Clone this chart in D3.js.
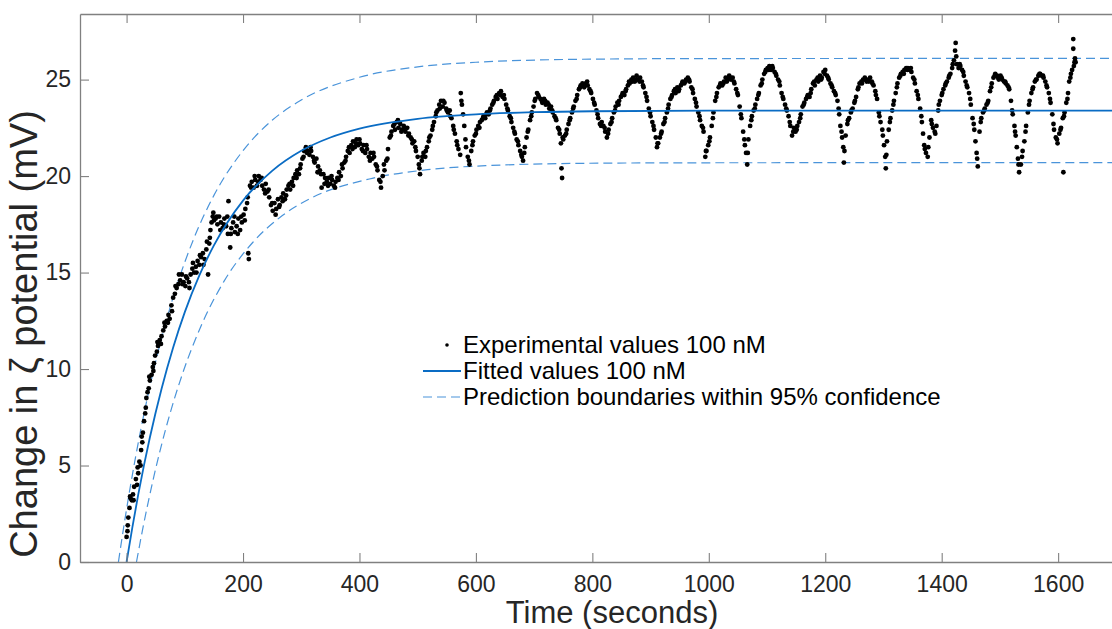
<!DOCTYPE html>
<html>
<head>
<meta charset="utf-8">
<script src="https://cdn.jsdelivr.net/npm/d3@7"></script>
<style>
	body { margin: 0; background: #fff; }
	svg text { font-family: "Liberation Sans", Arial, sans-serif; }
</style>
</head>
<body>
<div id="chart-area"></div>
<script>
// Data
// ****
// experimental zeta potential readings [time (s), change (mV)]
const expPoints = [
	[0,1.3],[2,1.9],[3,2.3],[5,2.8],[7,3.3],[9,3.2],[11,3.5],[13,3.9],[16,4.3],[18,4.0],[20,4.6],[22,5.2],[24,5.0],[25,5.8],
	[26,6.5],[28,6.7],[30,7.3],[32,7.7],[34,8.5],[36,8.8],[38,9.0],[40,9.4],[43,9.7],[45,10.1],[47,10.3],[49,10.7],[52,10.9],
	[54,11.2],[57,11.5],[60,11.7],[63,12.0],[66,12.2],[69,12.5],[72,12.8],[74,12.6],[77,13.3],[80,13.7],[83,13.9],[86,14.2],
	[89,14.4],[92,14.6],[95,14.9],[98,14.5],[101,14.3],[104,14.7],[107,14.5],[110,14.9],[113,15.2],[116,15.0],[119,15.3],
	[122,15.6],[125,15.4],[128,15.8],[131,16.0],[134,15.7],[137,16.2],[140,14.9],[142,16.5],[144,17.2],[146,17.6],[148,17.9],
	[150,17.7],[153,17.8],[156,17.5],[159,17.9],[162,17.6],[165,17.3],[168,17.8],[171,17.4],[174,17.0],[175,18.7],[178,16.3],
	[180,17.3],[183,17.6],[186,17.1],[189,17.4],[192,17.8],[195,17.2],[198,17.6],[201,18.0],[204,18.3],[207,18.6],[209,16.0],
	[210,15.7],[212,19.5],[215,19.7],[218,19.4],[221,19.8],[224,19.5],[227,20.0],[230,19.8],[233,19.5],[236,19.3],[239,19.6],
	[242,19.2],[245,18.9],[248,18.5],[251,18.2],[254,18.6],[257,18.3],[260,18.8],[263,18.5],[266,18.9],[269,19.1],[272,18.8],
	[275,19.3],[278,19.5],[281,19.3],[284,19.7],[287,19.9],[290,20.1],[293,20.3],[296,20.1],[299,20.6],[302,20.9],[305,21.3],
	[308,21.5],[311,21.3],[314,21.1],[317,21.3],[320,21.0],[323,20.7],[326,20.9],[329,20.5],[332,20.3],[335,19.4],[338,20.1],
	[341,19.9],[344,19.7],[347,19.9],[350,19.6],[353,19.8],[356,19.5],[359,19.7],[362,19.9],[365,20.2],[368,20.0],[371,20.4],
	[374,20.7],[377,21.0],[380,21.3],[383,21.2],[386,21.6],[389,21.8],[392,21.5],[395,21.9],[398,21.6],[401,21.7],[404,21.4],
	[407,21.6],[410,21.2],[413,21.4],[416,21.0],[419,21.2],[422,20.9],[425,21.0],[428,20.6],[431,20.3],[434,19.8],[437,19.4],
	[440,20.0],[443,20.3],[446,20.8],[449,21.4],[452,22.0],[455,22.3],[458,22.6],[461,22.4],[464,22.8],[467,22.5],[470,22.7],
	[473,22.4],[476,22.6],[479,22.3],[482,22.5],[485,22.2],[488,22.0],[491,21.7],[494,21.8],[497,21.3],[500,21.0],[502,20.6],
	[504,20.1],[507,20.8],[510,21.2],[513,21.0],[516,21.5],[519,21.8],[522,22.1],[525,22.4],[528,22.8],[531,23.1],[534,23.4],
	[537,23.7],[540,23.9],[543,23.6],[546,23.8],[549,23.5],[552,23.3],[555,23.4],[558,23.0],[561,22.6],[564,22.2],[567,21.8],
	[570,21.4],[573,21.1],[574,24.3],[576,23.7],[578,23.2],[580,22.6],[583,21.5],[586,21.0],[589,20.6],[592,21.3],[595,21.8],
	[598,22.1],[601,22.4],[604,22.6],[607,22.8],[610,22.9],[613,23.1],[616,23.0],[619,23.3],[622,23.2],[625,23.5],[628,23.7],
	[631,23.9],[634,24.1],[637,24.0],[640,24.3],[643,24.4],[646,24.1],[649,24.0],[652,23.7],[655,23.4],[658,23.1],[661,22.8],
	[664,22.5],[667,22.2],[670,21.9],[673,21.6],[676,21.3],[679,21.0],[681,20.8],[684,21.5],[687,22.0],[690,22.4],[693,22.9],
	[696,23.3],[699,23.6],[702,24.0],[705,24.3],[708,24.1],[711,24.0],[714,23.8],[717,24.0],[720,23.7],[723,23.8],[726,23.5],
	[729,23.6],[732,23.3],[735,23.1],[738,22.9],[741,22.5],[744,22.2],[746,21.7],[747,20.4],[748,19.9],[750,21.9],[753,22.1],
	[756,22.4],[759,22.7],[762,23.0],[765,23.3],[768,23.6],[771,23.9],[774,24.2],[777,24.5],[780,24.7],[783,24.8],[786,24.6],
	[789,24.8],[792,24.7],[795,24.5],[798,24.3],[801,24.0],[804,23.7],[807,23.4],[810,23.0],[813,22.7],[816,22.8],[819,22.6],
	[822,22.3],[825,22.0],[828,22.4],[831,22.7],[834,23.0],[837,23.3],[840,23.6],[843,23.8],[846,23.9],[849,24.1],[852,24.3],
	[855,24.2],[858,24.5],[861,24.7],[864,24.8],[867,25.0],[870,25.1],[873,24.9],[876,25.2],[879,25.0],[882,25.1],[885,24.9],
	[888,24.6],[891,24.3],[894,23.9],[897,23.5],[900,23.1],[903,22.8],[906,22.4],[909,22.0],[911,21.5],[913,21.7],[916,22.0],
	[919,22.3],[922,22.7],[925,23.0],[928,23.3],[931,23.7],[934,24.0],[937,24.2],[940,24.4],[943,24.3],[946,24.6],[949,24.5],
	[952,24.7],[955,24.9],[958,24.8],[961,25.0],[964,25.1],[967,24.9],[970,24.6],[973,24.3],[976,24.0],[979,23.6],[982,23.3],
	[985,22.9],[988,22.6],[991,22.3],[994,21.0],[996,21.3],[999,21.6],[1002,22.0],[1005,22.6],[1008,23.3],[1011,23.9],
	[1014,24.3],[1017,24.6],[1020,24.8],[1023,24.7],[1026,24.9],[1029,25.1],[1032,25.0],[1035,25.2],[1038,25.0],[1041,25.1],
	[1044,24.8],[1047,24.5],[1050,24.2],[1053,23.6],[1056,23.0],[1059,22.3],[1062,21.6],[1064,21.2],[1066,20.6],[1068,21.9],
	[1071,22.6],[1074,23.1],[1077,23.4],[1080,23.7],[1083,24.0],[1086,24.3],[1089,24.7],[1092,25.0],[1095,25.3],[1098,25.5],
	[1101,25.6],[1104,25.7],[1107,25.5],[1110,25.6],[1113,25.4],[1116,25.2],[1119,25.0],[1122,24.7],[1125,24.3],[1128,24.0],
	[1131,23.7],[1134,23.4],[1137,23.1],[1140,22.6],[1143,22.1],[1146,22.5],[1149,22.3],[1152,22.6],[1155,22.8],[1158,23.2],
	[1161,23.6],[1164,23.8],[1167,24.0],[1170,24.2],[1173,24.1],[1176,24.5],[1179,24.8],[1182,24.7],[1185,25.0],[1188,24.9],
	[1191,25.2],[1194,25.1],[1197,25.4],[1200,25.5],[1203,25.2],[1206,25.0],[1209,24.8],[1212,24.6],[1215,24.4],[1218,24.2],
	[1221,23.9],[1224,23.2],[1226,22.6],[1229,22.0],[1231,21.5],[1232,20.7],[1235,22.1],[1238,22.7],[1241,23.0],[1244,23.3],
	[1247,23.5],[1250,23.8],[1253,24.1],[1256,24.5],[1259,24.8],[1262,24.9],[1265,25.0],[1268,25.1],[1271,24.9],[1274,25.0],
	[1277,25.1],[1280,24.9],[1283,24.7],[1286,24.4],[1289,24.0],[1292,23.3],[1295,22.8],[1298,22.4],[1301,21.6],[1303,21.0],
	[1304,20.4],[1306,21.8],[1309,22.4],[1312,23.0],[1315,23.4],[1318,23.9],[1321,24.3],[1324,24.8],[1327,25.1],[1330,25.3],
	[1333,25.4],[1336,25.5],[1339,25.6],[1342,25.6],[1345,25.5],[1348,25.4],[1351,25.1],[1354,24.8],[1357,24.4],[1360,24.0],
	[1363,23.5],[1366,22.8],[1368,22.2],[1370,21.6],[1373,21.2],[1376,21.0],[1379,22.0],[1382,22.9],[1385,22.5],[1388,22.3],
	[1391,22.6],[1394,23.4],[1397,23.9],[1400,24.2],[1403,24.5],[1406,24.7],[1409,24.9],[1412,25.1],[1415,25.3],[1418,25.6],
	[1421,26.0],[1423,26.5],[1424,26.9],[1426,25.8],[1429,25.6],[1432,25.7],[1435,25.5],[1438,25.2],[1441,24.9],[1444,24.6],
	[1447,24.3],[1450,23.7],[1453,23.0],[1456,22.4],[1458,21.8],[1460,21.2],[1462,20.5],[1465,22.3],[1468,23.0],[1471,23.3],
	[1474,23.5],[1477,23.7],[1480,23.9],[1483,24.4],[1486,24.8],[1489,25.1],[1492,25.3],[1495,25.2],[1498,25.0],[1501,25.2],
	[1504,25.0],[1507,24.9],[1510,24.8],[1513,24.7],[1516,24.5],[1519,23.9],[1522,23.2],[1525,22.6],[1527,22.1],[1529,21.5],
	[1531,20.9],[1533,20.2],[1536,20.6],[1539,21.3],[1542,21.8],[1545,22.6],[1548,23.3],[1551,23.9],[1554,24.3],[1557,24.6],
	[1560,24.9],[1563,25.0],[1566,25.2],[1569,25.3],[1572,25.2],[1575,25.1],[1578,24.9],[1581,24.6],[1584,24.3],[1587,23.8],
	[1590,23.2],[1593,22.4],[1596,22.0],[1599,21.7],[1602,22.2],[1605,22.5],[1608,23.0],[1609,20.2],[1611,23.3],[1614,23.8],
	[1617,24.3],[1619,24.9],[1621,25.1],[1624,25.5],[1627,25.7],[1629,26.1],[1630,25.9],[1626,26.6],[1626,27.1]
]

// second pass of readings, the spread of the cloud around the main trace
const expPointsSpread = [
	[1.5,1.6],[6,3.4],[12,3.2],[19,4.9],[27,6.2],[33,8.0],[39,9.6],[46,9.9],[53,11.4],[59,11.3],[65,12.4],[71,12.4],[78,13.0],
	[84,14.3],[90,14.9],[96,14.4],[102,14.8],[108,14.2],[114,15.5],[120,15.0],[126,15.9],[132,15.4],[138,16.6],[143,16.8],
	[149,18.1],[155,17.9],[161,17.2],[167,17.5],[173,17.9],[179,17.0],[185,17.9],[191,17.0],[197,17.9],[203,17.7],[208,18.9],
	[214,19.4],[220,20.0],[226,19.7],[232,19.9],[238,19.1],[244,19.3],[250,18.6],[256,18.0],[262,18.4],[268,18.7],[274,19.0],
	[280,19.6],[286,19.5],[292,19.9],[298,20.4],[304,21.0],[310,21.2],[316,21.5],[322,20.8],[328,20.2],[334,20.1],[340,19.6],
	[346,19.5],[352,20.0],[358,19.4],[364,19.8],[370,20.6],[376,20.8],[382,21.5],[388,21.4],[394,21.7],[400,21.9],[406,21.3],
	[412,21.6],[418,20.8],[424,21.2],[430,20.5],[436,19.7],[442,20.6],[448,20.9],[454,22.1],[460,22.7],[466,22.9],[472,22.3],
	[478,22.5],[484,22.1],[490,21.9],[496,21.5],[503,20.4],[508,21.0],[514,21.3],[520,22.0],[526,22.6],[532,23.3],[538,23.5],
	[544,23.9],[550,23.4],[556,23.1],[562,22.4],[568,21.6],[575,23.9],[582,21.9],[588,20.8],[594,21.6],[600,22.2],[606,22.5],
	[612,23.0],[618,23.2],[624,23.4],[630,23.8],[636,24.2],[642,24.2],[648,24.2],[654,23.5],[660,23.0],[666,22.3],[672,21.8],
	[678,21.1],[683,21.2],[689,22.3],[695,23.1],[701,23.9],[707,24.2],[713,23.9],[719,23.9],[725,23.7],[731,23.4],[737,23.0],
	[743,22.4],[749,22.0],[755,22.2],[761,22.9],[767,23.5],[773,24.0],[779,24.6],[785,24.7],[791,24.9],[797,24.4],[803,23.8],
	[809,23.2],[815,22.6],[821,22.5],[827,22.2],[833,22.8],[839,23.4],[845,23.7],[851,24.2],[857,24.4],[863,24.9],[869,24.9],
	[875,25.0],[881,24.9],[887,24.7],[893,24.1],[899,23.3],[905,22.6],[912,21.7],[918,22.2],[924,22.8],[930,23.5],[936,24.1],
	[942,24.5],[948,24.4],[954,24.8],[960,24.9],[966,25.0],[972,24.5],[978,23.8],[984,23.1],[990,22.5],[995,21.3],[1001,21.8],
	[1007,23.0],[1013,24.1],[1019,24.7],[1025,24.8],[1031,24.9],[1037,25.1],[1043,24.9],[1049,24.3],[1055,23.2],[1061,21.9],
	[1067,21.2],[1073,22.9],[1079,23.5],[1085,24.2],[1091,24.8],[1097,25.4],[1103,25.5],[1109,25.7],[1115,25.3],[1121,24.9],
	[1127,24.1],[1133,23.5],[1139,22.8],[1145,22.3],[1151,22.4],[1157,23.0],[1163,23.7],[1169,24.1],[1175,24.3],[1181,24.9],
	[1187,25.1],[1193,25.0],[1199,25.3],[1205,25.1],[1211,24.7],[1217,24.3],[1223,23.5],[1228,22.3],[1233,21.3],[1239,22.9],
	[1245,23.4],[1251,23.9],[1257,24.6],[1263,24.8],[1269,25.0],[1275,24.9],[1281,24.8],[1287,24.2],[1293,23.1],[1299,22.1],
	[1305,21.1],[1311,22.8],[1317,23.7],[1323,24.6],[1329,25.2],[1335,25.3],[1341,25.5],[1347,25.6],[1353,25.0],[1359,24.2],
	[1365,23.1],[1371,21.4],[1377,21.5],[1383,22.7],[1389,22.2],[1395,23.7],[1401,24.3],[1407,24.8],[1413,25.2],[1419,25.8],
	[1425,26.2],[1431,25.8],[1437,25.4],[1443,24.7],[1449,24.0],[1455,22.7],[1461,20.9],[1467,22.8],[1473,23.4],[1479,23.8],
	[1485,24.6],[1491,25.2],[1497,25.1],[1503,25.1],[1509,24.9],[1515,24.6],[1521,23.4],[1526,22.3],[1532,20.6],[1538,21.0],
	[1544,22.3],[1550,23.7],[1556,24.5],[1562,25.0],[1568,25.3],[1574,25.2],[1580,24.7],[1586,24.0],[1592,22.7],[1598,21.9],
	[1604,22.4],[1610,23.1],[1616,24.0],[1622,25.3],[1628,25.9]
]

// fitted curve
const fitTimes = [0, 10, 20, 30, 40, 60, 80, 100, 125, 150, 200, 250, 300, 350, 400, 500, 600, 700, 800, 1000, 1720]
const fitValues = [0, 1.81, 3.49, 5.03, 6.45, 8.97, 11.12, 12.95, 14.85, 16.41, 18.73, 20.27, 21.31, 22.0, 22.46, 22.97, 23.2, 23.31, 23.36, 23.39, 23.39]

// 95% prediction boundaries
const upperTimes = [-14, -4, 6, 16, 26, 36, 56, 86, 116, 150, 200, 250, 300, 400, 500, 600, 800, 1000, 1720]
const upperValues = [0, 1.99, 3.83, 5.53, 7.10, 8.55, 11.12, 14.30, 16.80, 19.0, 21.32, 22.89, 23.94, 25.12, 25.66, 25.90, 26.06, 26.09, 26.1]
const lowerTimes = [17, 27, 37, 47, 67, 97, 127, 167, 217, 267, 317, 417, 517, 617, 817, 1017, 1720]
const lowerValues = [0, 1.60, 3.08, 4.45, 6.87, 9.84, 12.17, 14.53, 16.57, 17.94, 18.86, 19.85, 20.33, 20.54, 20.67, 20.69, 20.7]

const xTicks = [0, 200, 400, 600, 800, 1000, 1200, 1400, 1600]
const yTicks = [0, 5, 10, 15, 20, 25]
const legendLabels = ["Experimental values 100 nM", "Fitted values 100 nM", "Prediction boundaries within 95% confidence"]

// Config
// ******
const margin = {top: 14, right: 0, bottom: 67, left: 80}
const width = 1048, height = 548
const axisColor = "#808080", textColor = "#262626"
const fitColor = "#0a6cc4", boundColor = "#4a94da"

const svg = d3.select("#chart-area")
	.append("svg")
		.attr("width", 1112)
		.attr("height", 629)

const g = svg.append("g")
	.attr("transform", "translate(" + margin.left + ", " + margin.top + ")")

const x_scale = d3.scaleLinear().domain([-80, 1720]).range([0, width])
const y_scale = d3.scaleLinear().domain([0, 28.4]).range([height, 0])

g.append("clipPath").attr("id", "plot-clip")
	.append("rect").attr("width", width).attr("height", height)

const plot = g.append("g").attr("clip-path", "url(#plot-clip)")

// Boundaries & fit
const line = d3.line().curve(d3.curveMonotoneX)
	.x(d => x_scale(d[0])).y(d => y_scale(d[1]))

plot.append("path")
	.datum(upperTimes.map((t, i) => [t, upperValues[i]]))
	.attr("d", line).attr("fill", "none")
	.attr("stroke", boundColor).attr("stroke-width", 1.2).attr("stroke-dasharray", "9,5")

plot.append("path")
	.datum(lowerTimes.map((t, i) => [t, lowerValues[i]]))
	.attr("d", line).attr("fill", "none")
	.attr("stroke", boundColor).attr("stroke-width", 1.2).attr("stroke-dasharray", "9,5")

// Experimental dots
plot.selectAll("circle.exp").data(expPoints.concat(expPointsSpread)).enter().append("circle")
	.attr("class", "exp")
	.attr("cx", d => x_scale(d[0]))
	.attr("cy", d => y_scale(d[1]))
	.attr("r", 2.4)
	.attr("fill", "#000")

plot.append("path")
	.datum(fitTimes.map((t, i) => [t, fitValues[i]]))
	.attr("d", line).attr("fill", "none")
	.attr("stroke", fitColor).attr("stroke-width", 1.8)

// Axes
const xAxis = d3.axisBottom(x_scale).tickValues(xTicks).tickFormat(d3.format("d"))
	.tickSizeInner(-9).tickSizeOuter(0).tickPadding(14)
const yAxis = d3.axisLeft(y_scale).tickValues(yTicks).tickFormat(d3.format("d"))
	.tickSizeInner(-9).tickSizeOuter(0).tickPadding(9)
const topAxis = d3.axisTop(x_scale).tickValues(xTicks).tickSizeInner(-9).tickSizeOuter(0).tickFormat("")

const x_axis = g.append("g").attr("transform", "translate(0, " + height + ")").call(xAxis)
const y_axis = g.append("g").call(yAxis)
const top_axis = g.append("g").call(topAxis)

;[x_axis, y_axis, top_axis].forEach(a => {
	a.select(".domain").attr("stroke", axisColor).attr("stroke-width", 1.3)
	a.selectAll(".tick line").attr("stroke", axisColor).attr("stroke-width", 1.1)
	a.selectAll("text").attr("fill", textColor).attr("font-size", "23px")
		.style("font-family", "'Liberation Sans', Arial, sans-serif")
})
x_axis.selectAll("text").attr("dy", "0.71em")

// Labels
g.append("text")
	.attr("x", (width / 2) + 8)
	.attr("y", height + 61)
	.attr("font-size", "31px")
	.attr("text-anchor", "middle")
	.attr("fill", textColor)
	.text("Time (seconds)")

g.append("text")
	.attr("x", - 320)
	.attr("y", -43)
	.attr("font-size", "38px")
	.attr("text-anchor", "middle")
	.attr("fill", textColor)
	.attr("transform", "rotate(-90)")
	.text("Change in ζ potential (mV)")

// Legend
const legend = svg.append("g").attr("transform", "translate(423, 345)")
legendLabels.forEach((label, i) => {
	const row = legend.append("g").attr("transform", "translate(0, " + (i * 26) + ")")
	if (i === 0) {
		row.append("circle").attr("cx", 24).attr("cy", 0).attr("r", 1.8).attr("fill", "#000")
	} else {
		row.append("line").attr("x1", 0).attr("x2", 38).attr("y1", 0).attr("y2", 0)
			.attr("stroke", i === 1 ? fitColor : boundColor)
			.attr("stroke-width", i === 1 ? 1.8 : 1.2)
			.attr("stroke-dasharray", i === 1 ? null : "9,5")
	}
	row.append("text")
		.attr("x", 40)
		.attr("y", 0)
		.attr("dy", "0.35em")
		.attr("font-size", "24px")
		.attr("fill", "#000")
		.text(label)
})
</script>
</body>
</html>
